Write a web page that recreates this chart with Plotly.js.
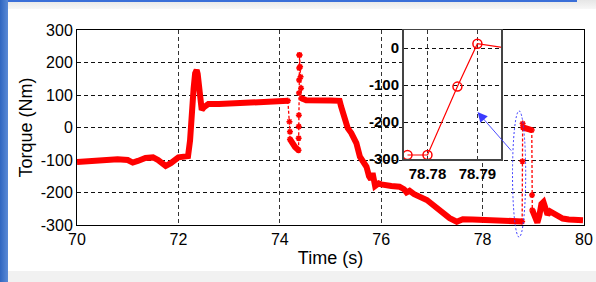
<!DOCTYPE html>
<html>
<head>
<meta charset="utf-8">
<script src="https://cdn.plot.ly/plotly-3.0.1.min.js"></script>
<style>
  html, body { margin: 0; padding: 0; background: #ffffff; }
  #frame { position: relative; width: 596px; height: 282px; overflow: hidden; background: #ffffff; }
  #leftbar { position: absolute; left: 0; top: 0; width: 8px; height: 282px; background: linear-gradient(to right, #2f66c0, #5a8ad6); }
  #topbar { position: absolute; left: 8px; top: 0; width: 588px; height: 9px; background: linear-gradient(to bottom, #e6e6e6, #f7f7f7); }
  #topline { position: absolute; left: 8px; top: 0; width: 569px; height: 2px; background: #3a6fd8; }
  #bottombar { position: absolute; left: 8px; top: 271px; width: 588px; height: 11px; background: #f1f1f1; }
  #chart { position: absolute; left: 0; top: 0; width: 596px; height: 282px; }
</style>
</head>
<body>
<div id="frame">
  <div id="leftbar"></div>
  <div id="topbar"></div>
  <div id="topline"></div>
  <div id="bottombar"></div>
  <div id="chart"></div>
</div>
<script>
// Dense (continuous) parts of the torque record; null separates the segments
var bandTime = [
  70.0, 70.2, 70.4, 70.6, 70.8, 71.0, 71.1, 71.2, 71.35, 71.5, 71.6, 71.75, 71.85, 72.0, 72.19,
  72.23, 72.26, 72.3, 72.33, 72.36, 72.38, 72.4, 72.42, 72.44, 72.46, 72.5, 72.59, 72.8, 73.0, 73.6, 74.16,
  null,
  74.2, 74.25, 74.3, 74.37,
  null,
  74.43, 74.52, 75.0, 75.18, 75.21, 75.28, 75.34, 75.41, 75.51, 75.58, 75.71, 75.76, 75.8, 75.83,
  75.88, 75.95, 76.0, 76.2, 76.36, 76.45, 76.5, 76.56, 76.65, 76.9, 77.1, 77.35, 77.49, 77.61,
  77.8, 78.0, 78.3, 78.5, 78.7, 78.78,
  null,
  78.796, 78.85, 78.9, 78.97,
  null,
  78.98, 79.0, 79.04, 79.08, 79.12, 79.16, 79.2, 79.24, 79.28, 79.33, 79.38, 79.45, 79.58, 79.7, 79.85, 79.98
];
var bandTorque = [
  -106, -104, -102, -97, -98, -100, -108, -103, -94, -92, -100, -118, -110, -92, -88,
  -40, 54, 120, 167, 177, 165, 140, 100, 70, 54, 62, 72, 72, 74, 78, 82,
  null,
  -36, -50, -60, -70,
  null,
  90, 84, 83, 82, 64, 33, -2, -17, -48, -90, -121, -150, -160, -140,
  -180, -172, -175, -180, -182, -190, -200, -195, -205, -223, -250, -279, -290, -282,
  -283, -284, -286, -285, -287, -289,
  null,
  0, -3, -5, -8,
  null,
  -254, -262, -280, -293, -270, -235, -229, -255, -268, -258, -263, -272, -280, -283, -284, -285
];

// Sparse samples at the fast transients (drawn dotted with markers)
var jumpTime = [
  74.16, 74.19, 74.2, 74.2, null,
  74.37, 74.372, 74.374, 74.376, 74.378, 74.38, 74.382, 74.384, 74.39, 74.40, 74.41, 74.42, 74.43, null,
  78.78, 78.786, 78.79, 78.796, null,
  78.97, 78.975, 78.98
];
var jumpTorque = [
  82, 18, -13, -36, null,
  -70, -33, 3, 38, 106, 146, 183, 223, 223, 187, 156, 121, 90, null,
  -289, -104, 12, 0, null,
  -8, -208, -254
];

// Zoomed inset around the step near 78.78 s
var insetTime = [78.776, 78.78, 78.786, 78.79, 78.796];
var insetTorque = [-289, -289, -104, 12, 0];

var mainXTicks = [70, 72, 74, 76, 78, 80];
var mainYTicks = [-300, -200, -100, 0, 100, 200, 300];
var mainYTickText = ['-300', '-200', '-100', '0', '100', '200', '300'];
var insetXTicks = [78.78, 78.79];
var insetXTickText = ['78.78', '78.79'];
var insetYTicks = [-300, -200, -100, 0];
var insetYTickText = ['-300', '-200', '-100', '0'];

var red = '#ff0000';
var gridDash = '4px,3px';

var traces = [
  {
    x: bandTime, y: bandTorque, type: 'scatter', mode: 'lines',
    line: {color: red, width: 6}, connectgaps: false, hoverinfo: 'skip', showlegend: false
  },
  {
    x: jumpTime, y: jumpTorque, type: 'scatter', mode: 'lines+markers',
    line: {color: red, width: 1.3, dash: '3px,2px'},
    marker: {symbol: 'asterisk-open', size: 5, color: red, line: {color: red, width: 1.5}},
    connectgaps: false, showlegend: false
  },
  {
    x: insetTime, y: insetTorque, type: 'scatter', mode: 'lines+markers',
    xaxis: 'x2', yaxis: 'y2',
    line: {color: red, width: 1.2},
    marker: {symbol: 'circle-open', size: 9, color: red, line: {color: red, width: 1.5}},
    showlegend: false, cliponaxis: true
  }
];

var tickFont = {family: 'Liberation Sans, Arial, sans-serif', size: 16, color: '#000'};
var boldFont = {family: 'Liberation Sans, Arial, sans-serif', size: 15, color: '#000', weight: 'bold'};

var layout = {
  width: 596, height: 282,
  margin: {l: 77, r: 11.5, t: 30, b: 57, pad: 0},
  paper_bgcolor: 'rgba(0,0,0,0)',
  plot_bgcolor: '#ffffff',
  showlegend: false,
  xaxis: {
    domain: [0, 1], range: [70, 80], tickvals: mainXTicks,
    showline: true, linecolor: '#000', linewidth: 1, mirror: true,
    showgrid: true, gridcolor: '#333', griddash: gridDash, gridwidth: 1,
    zeroline: false, ticks: '', tickfont: tickFont, automargin: false,
    title: {text: 'Time (s)', font: {family: 'Liberation Sans, Arial, sans-serif', size: 18, color: '#000'}, standoff: 4}
  },
  yaxis: {
    domain: [0, 1], range: [-300, 300], tickvals: mainYTicks, ticktext: mainYTickText,
    showline: true, linecolor: '#000', linewidth: 1, mirror: true,
    showgrid: true, gridcolor: '#111', griddash: gridDash, gridwidth: 1,
    zeroline: false, ticks: '', tickfont: tickFont, automargin: false,
    title: {text: 'Torque (Nm)', font: {family: 'Liberation Sans, Arial, sans-serif', size: 18, color: '#000'}, standoff: 3}
  },
  xaxis2: {
    domain: [0.644, 0.837], range: [78.7752, 78.7948], anchor: 'y2',
    tickvals: insetXTicks, ticktext: insetXTickText,
    showline: true, linecolor: '#444', linewidth: 1.5, mirror: true,
    showgrid: true, gridcolor: '#333', griddash: gridDash, gridwidth: 1,
    zeroline: false, ticks: '', tickfont: boldFont, automargin: false
  },
  yaxis2: {
    domain: [0.338, 1], range: [-300, 49], anchor: 'x2',
    tickvals: insetYTicks, ticktext: insetYTickText,
    showline: true, linecolor: '#444', linewidth: 1.5, mirror: true,
    showgrid: true, gridcolor: '#111', griddash: gridDash, gridwidth: 1,
    zeroline: false, ticks: '', tickfont: boldFont, automargin: false
  },
  shapes: [
    {
      type: 'circle', xref: 'paper', yref: 'paper',
      x0: 0.859, x1: 0.885, y0: -0.062, y1: 0.585,
      line: {color: '#3a3aff', width: 1, dash: '2px,2px'}, fillcolor: 'rgba(0,0,0,0)'
    }
  ],
  annotations: [
    {
      xref: 'paper', yref: 'paper', x: 0.790, y: 0.579,
      ax: 35, ay: 40, axref: 'pixel', ayref: 'pixel',
      text: '', showarrow: true, arrowhead: 2, arrowsize: 2.2, arrowwidth: 0.9,
      arrowcolor: '#3a3aff', standoff: 0
    }
  ]
};

Plotly.newPlot('chart', traces, layout, {displayModeBar: false, staticPlot: true});
</script>
</body>
</html>
